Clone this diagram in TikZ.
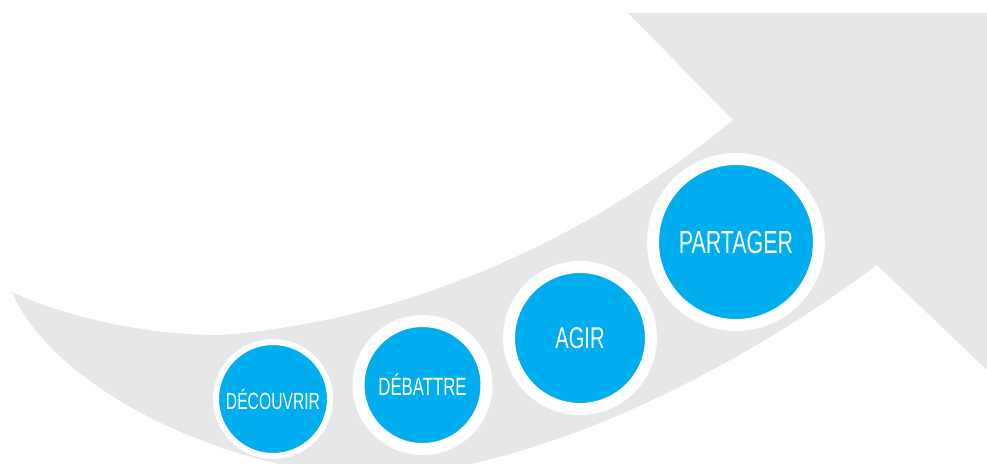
\documentclass[tikz,border=0pt]{standalone}
\usepackage{fontspec}
\newfontfamily\stagefont[FakeStretch=0.67]{Liberation Sans}
\definecolor{arrowgrey}{HTML}{E6E7E8}
\definecolor{stageblue}{HTML}{00AEEF}
\tikzset{stage/.style={circle,fill=stageblue,draw=white,line width=6pt,inner sep=0pt,text=white}}

\begin{document}
\begin{tikzpicture}[x=0.5pt,y=-0.5pt]
\useasboundingbox (0,0) rectangle (987,463);
\coordinate (T) at (12,292); \coordinate (N1) at (733,120); \coordinate (H1) at (628,13); \coordinate (H2) at (987,13);
\coordinate (H3) at (987,370); \coordinate (N2) at (877,265); \coordinate (L) at (370,478); \coordinate (U) at (220,335);
\begin{scope}
\clip (0,0) rectangle (987,463);
\fill[arrowgrey] (T) .. controls (50,380) and (200,465) .. (L) .. controls (550,470) and (750,360) .. (N2) -- (H3) -- (H2) -- (H1) -- (N1) .. controls (600,230) and (420,320) .. (U) .. controls (130,335) and (50,310) .. (T) -- cycle;
\end{scope}
\node[stage,minimum size=57pt,line width=3pt,font=\stagefont\fontsize{11.7}{14}\selectfont] (decouvrir) at (273,399) {DÉCOUVRIR};
\node[stage,minimum size=64pt,font=\stagefont\fontsize{12.5}{15}\selectfont] (debattre) at (422.5,385) {DÉBATTRE};
\node[stage,minimum size=71pt,font=\stagefont\fontsize{15}{18}\selectfont] (agir) at (580,338) {AGIR};
\node[stage,minimum size=83pt,font=\stagefont\fontsize{16}{19}\selectfont] (partager) at (736,242) {PARTAGER};
\end{tikzpicture}
\end{document}
